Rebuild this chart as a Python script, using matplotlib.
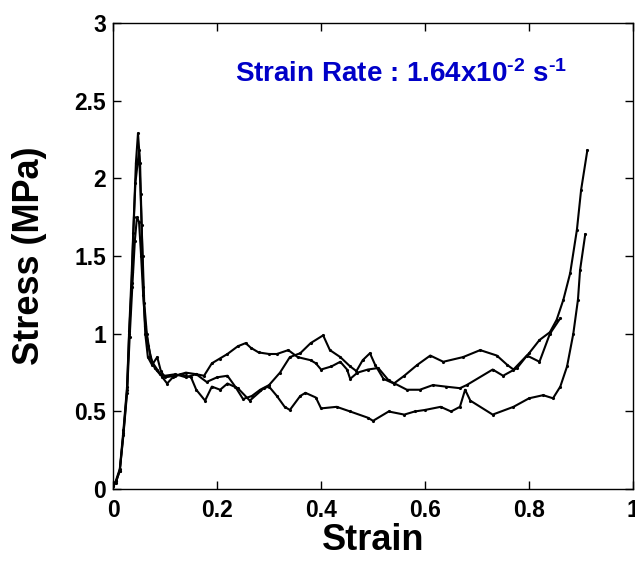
import matplotlib
matplotlib.use("Agg")
import matplotlib.pyplot as plt

# ---------------------------------------------------------
# Data
# ---------------------------------------------------------

strain_1 = [0.0, 0.005, 0.013, 0.02, 0.027, 0.031, 0.036, 0.039, 0.043, 0.05,
            0.053, 0.057, 0.06, 0.065, 0.072, 0.08, 0.09, 0.1, 0.12, 0.14,
            0.16, 0.175, 0.19, 0.205, 0.22, 0.24, 0.255, 0.265, 0.28, 0.3,
            0.315, 0.337, 0.355, 0.38, 0.39, 0.40, 0.42, 0.437, 0.45, 0.456,
            0.47, 0.49, 0.51, 0.53, 0.565, 0.59, 0.615, 0.64, 0.667, 0.68,
            0.73, 0.75, 0.777, 0.796, 0.82, 0.84, 0.86]
stress_1 = [0.02, 0.04, 0.12, 0.36, 0.64, 1.0, 1.33, 1.65, 1.97, 2.18,
            1.9, 1.5, 1.2, 1.0, 0.85, 0.78, 0.74, 0.73, 0.74, 0.72,
            0.74, 0.73, 0.81, 0.84, 0.87, 0.92, 0.94, 0.91, 0.88, 0.87,
            0.87, 0.895, 0.85, 0.83, 0.81, 0.77, 0.79, 0.82, 0.77, 0.71,
            0.75, 0.77, 0.78, 0.70, 0.64, 0.64, 0.67, 0.66, 0.65, 0.67,
            0.77, 0.73, 0.78, 0.86, 0.82, 1.0, 1.10]

strain_2 = [0.0, 0.005, 0.013, 0.02, 0.027, 0.031, 0.036, 0.04, 0.044, 0.048,
            0.052, 0.055, 0.058, 0.062, 0.067, 0.075, 0.085, 0.092, 0.1, 0.12,
            0.14, 0.16, 0.18, 0.2, 0.22, 0.235, 0.25, 0.267, 0.283, 0.3,
            0.321, 0.34, 0.36, 0.38, 0.404, 0.417, 0.437, 0.456, 0.468, 0.48,
            0.494, 0.504, 0.52, 0.54, 0.56, 0.585, 0.61, 0.635, 0.673, 0.706,
            0.738, 0.758, 0.77, 0.8, 0.82, 0.84, 0.853, 0.866, 0.879, 0.892,
            0.90, 0.912]
stress_2 = [0.03, 0.05, 0.13, 0.38, 0.66, 1.02, 1.4, 1.75, 2.1, 2.29,
            2.1, 1.7, 1.3, 1.0, 0.85, 0.8, 0.85, 0.76, 0.72, 0.73,
            0.75, 0.74, 0.69, 0.72, 0.73, 0.66, 0.58, 0.6, 0.64, 0.67,
            0.75, 0.85, 0.875, 0.94, 0.99, 0.895, 0.85, 0.79, 0.76, 0.83,
            0.875, 0.80, 0.71, 0.68, 0.73, 0.80, 0.86, 0.82, 0.85, 0.895,
            0.86, 0.80, 0.77, 0.875, 0.96, 1.01, 1.09, 1.22, 1.39, 1.67,
            1.925, 2.18]

strain_3 = [0.0, 0.006, 0.013, 0.02, 0.027, 0.032, 0.037, 0.042, 0.046, 0.05,
            0.054, 0.058, 0.062, 0.068, 0.075, 0.085, 0.095, 0.104, 0.115, 0.13,
            0.15, 0.16, 0.177, 0.19, 0.206, 0.22, 0.24, 0.263, 0.29, 0.30,
            0.315, 0.33, 0.34, 0.36, 0.37, 0.39, 0.40, 0.43, 0.456, 0.49,
            0.50, 0.53, 0.56, 0.58, 0.60, 0.63, 0.65, 0.667, 0.677, 0.687,
            0.73, 0.77, 0.80, 0.827, 0.846, 0.86, 0.873, 0.885, 0.894, 0.898,
            0.908]
stress_3 = [0.02, 0.05, 0.12, 0.35, 0.62, 0.98, 1.3, 1.6, 1.75, 1.72,
            1.5, 1.25, 1.05, 0.92, 0.82, 0.77, 0.72, 0.68, 0.72, 0.74,
            0.72, 0.64, 0.57, 0.66, 0.64, 0.68, 0.65, 0.57, 0.65, 0.66,
            0.60, 0.53, 0.51, 0.60, 0.62, 0.59, 0.52, 0.53, 0.50, 0.46,
            0.44, 0.50, 0.48, 0.50, 0.51, 0.53, 0.50, 0.53, 0.64, 0.57,
            0.48, 0.53, 0.585, 0.605, 0.585, 0.66, 0.79, 1.0, 1.22, 1.41,
            1.64]

x_ticks = [0, 0.2, 0.4, 0.6, 0.8, 1]
x_tick_labels = ["0", "0.2", "0.4", "0.6", "0.8", "1"]
y_ticks = [0, 0.5, 1, 1.5, 2, 2.5, 3]
y_tick_labels = ["0", "0.5", "1", "1.5", "2", "2.5", "3"]

# ---------------------------------------------------------
# Style
# ---------------------------------------------------------

plt.rcParams["font.family"] = ["Liberation Sans", "DejaVu Sans"]
plt.rcParams["font.weight"] = "bold"
plt.rcParams["mathtext.fontset"] = "custom"
plt.rcParams["mathtext.rm"] = "Liberation Sans:bold"
plt.rcParams["mathtext.bf"] = "Liberation Sans:bold"
plt.rcParams["mathtext.default"] = "bf"

fig = plt.figure(figsize=(6.35, 5.61), dpi=100)
ax = fig.add_axes([0.178, 0.128, 0.819, 0.831])

for xs, ys in [(strain_1, stress_1), (strain_2, stress_2), (strain_3, stress_3)]:
    ax.plot(xs, ys, color="black", linewidth=1.5,
            marker=".", markersize=2.5)

ax.set_xlim(0, 1)
ax.set_ylim(0, 3)
ax.set_xticks(x_ticks)
ax.set_xticklabels(x_tick_labels)
ax.set_yticks(y_ticks)
ax.set_yticklabels(y_tick_labels)

ax.tick_params(direction="in", length=6, width=1, labelsize=16.5,
               top=True, right=True)
ax.tick_params(axis="x", pad=7)
ax.tick_params(axis="y", pad=5)
for spine in ax.spines.values():
    spine.set_linewidth(1)

ax.set_xlabel("Strain", fontsize=26, fontweight="bold", labelpad=1)
ax.set_ylabel("Stress (MPa)", fontsize=26, fontweight="bold", labelpad=20)

ax.text(0.554, 0.873, r"Strain Rate : 1.64x10$^{\text{-2}}$ s$^{\text{-1}}$",
        transform=ax.transAxes, ha="center", va="baseline",
        fontsize=20, fontweight="bold", color="#0000C8")

fig.savefig("out.png", dpi=100)
